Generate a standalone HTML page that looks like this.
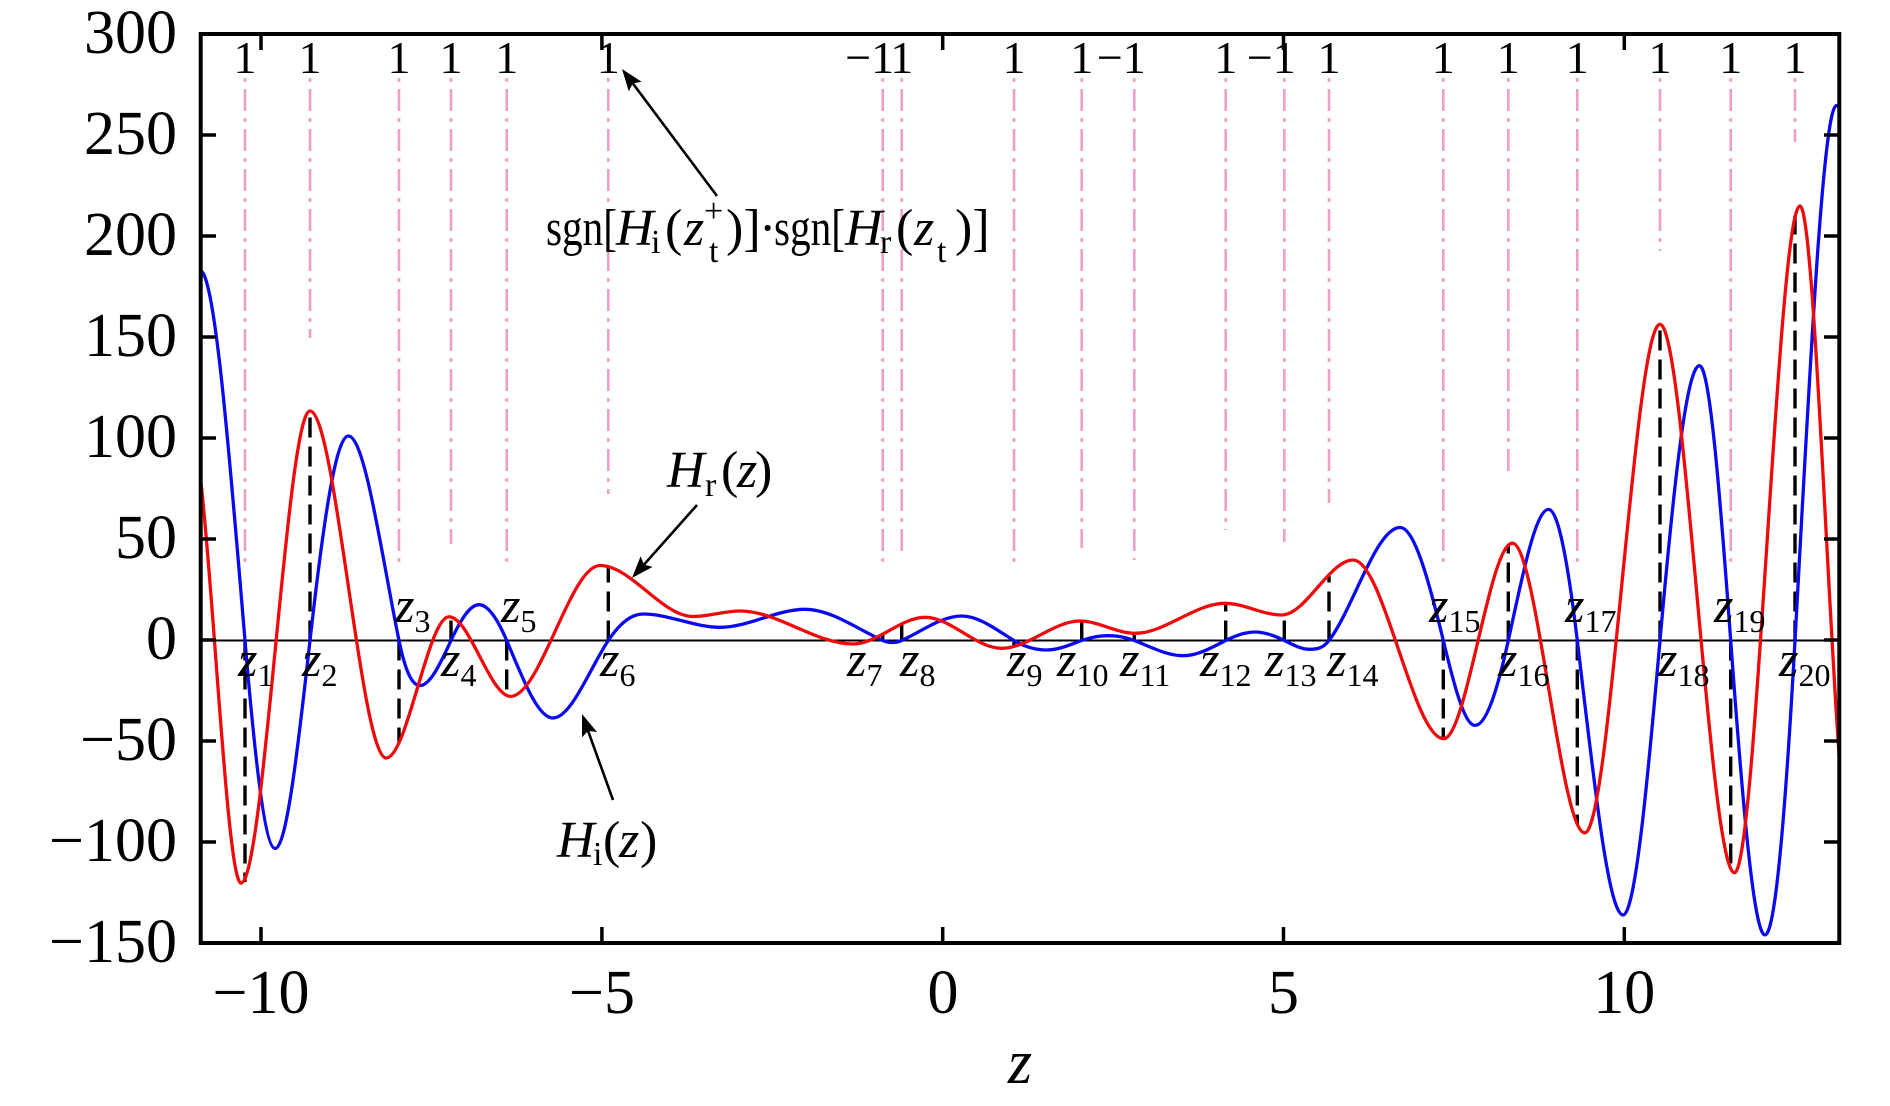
<!DOCTYPE html>
<html>
<head>
<meta charset="utf-8">
<style>
html,body{margin:0;padding:0;background:#fff;}
svg{display:block;}
text{font-family:"Liberation Serif","Times New Roman",serif;fill:#000;}
.it{font-style:italic;}
</style>
</head>
<body>
<svg width="1890" height="1106" viewBox="0 0 1890 1106" xmlns="http://www.w3.org/2000/svg">
<defs>
<clipPath id="pa"><rect x="201" y="34" width="1638" height="909"/></clipPath>
</defs>
<rect x="0" y="0" width="1890" height="1106" fill="#fff"/>

<g stroke="#f0a0c8" stroke-width="2.6" stroke-dasharray="4 7 22 7" fill="none">
<line x1="245" y1="78" x2="245" y2="567"/>
<line x1="310" y1="78" x2="310" y2="338"/>
<line x1="399" y1="78" x2="399" y2="567"/>
<line x1="451" y1="78" x2="451" y2="544"/>
<line x1="506.7" y1="78" x2="506.7" y2="567"/>
<line x1="608.3" y1="78" x2="608.3" y2="494"/>
<line x1="882.7" y1="78" x2="882.7" y2="562"/>
<line x1="901.7" y1="78" x2="901.7" y2="551"/>
<line x1="1014" y1="78" x2="1014" y2="567"/>
<line x1="1081.7" y1="78" x2="1081.7" y2="548"/>
<line x1="1134.3" y1="78" x2="1134.3" y2="560"/>
<line x1="1225.7" y1="78" x2="1225.7" y2="530"/>
<line x1="1284.3" y1="78" x2="1284.3" y2="542"/>
<line x1="1329" y1="78" x2="1329" y2="503"/>
<line x1="1443.3" y1="78" x2="1443.3" y2="567"/>
<line x1="1508.3" y1="78" x2="1508.3" y2="472"/>
<line x1="1577.3" y1="78" x2="1577.3" y2="567"/>
<line x1="1660" y1="78" x2="1660" y2="251"/>
<line x1="1730.7" y1="78" x2="1730.7" y2="567"/>
<line x1="1795" y1="78" x2="1795" y2="142"/>
</g>

<line x1="201" y1="640.5" x2="1839" y2="640.5" stroke="#000" stroke-width="2"/>

<g stroke="#000" stroke-width="3.4" stroke-dasharray="20 9" fill="none">
<line x1="245" y1="640.5" x2="245" y2="882"/>
<line x1="310" y1="640.5" x2="310" y2="411"/>
<line x1="399" y1="640.5" x2="399" y2="743"/>
<line x1="451" y1="640.5" x2="451" y2="617"/>
<line x1="506.7" y1="640.5" x2="506.7" y2="696"/>
<line x1="608.3" y1="640.5" x2="608.3" y2="567"/>
<line x1="882.7" y1="640.5" x2="882.7" y2="635"/>
<line x1="901.7" y1="640.5" x2="901.7" y2="624"/>
<line x1="1014" y1="640.5" x2="1014" y2="647"/>
<line x1="1081.7" y1="640.5" x2="1081.7" y2="621"/>
<line x1="1134.3" y1="640.5" x2="1134.3" y2="633"/>
<line x1="1225.7" y1="640.5" x2="1225.7" y2="603"/>
<line x1="1284.3" y1="640.5" x2="1284.3" y2="615"/>
<line x1="1329" y1="640.5" x2="1329" y2="576"/>
<line x1="1443.3" y1="640.5" x2="1443.3" y2="739"/>
<line x1="1508.3" y1="640.5" x2="1508.3" y2="545"/>
<line x1="1577.3" y1="640.5" x2="1577.3" y2="824"/>
<line x1="1660" y1="640.5" x2="1660" y2="324"/>
<line x1="1730.7" y1="640.5" x2="1730.7" y2="869"/>
<line x1="1795" y1="640.5" x2="1795" y2="216"/>
</g>

<g clip-path="url(#pa)" fill="none" stroke-width="3.3" stroke-linejoin="round" stroke-linecap="round">
<path stroke="#0a0af0" d="M199.5,272 L200,270.5
C215,270.5 230,462 245,640.5
C255.07,760.3 265.1,848.5 275.2,848.5
C286.8,848.5 298.4,743.5 310,640.5
C322.77,527.1 335.5,436 348.3,436
C365.2,436 382.1,558.5 399,640.5
C406,674.5 413,685.6 420,685.6
C430.3,685.6 440.7,662.7 451,640.5
C460.3,620.4 469.7,604.7 479,604.7
C488.2,604.7 497.5,618.9 506.7,640.5
C522.1,676.5 537.4,718 552.8,718
C571.3,718 589.8,668.3 608.3,640.5
C619.9,623.1 631.4,614 643,614
C668.7,614 694.3,627.3 720,627.3
C748.3,627.3 776.7,609.3 805,609.3
C830.9,609.3 856.8,628.8 882.7,640.5
C885.7,641.85 888.7,642.5 891.7,642.5
C895,642.5 898.4,642 901.7,640.5
C921.7,631.3 941.7,616 961.7,616
C979.1,616 996.6,630 1014,640.5
C1024.9,647 1035.8,650 1046.7,650
C1058.4,650 1070,644.7 1081.7,640.5
C1090.6,637.3 1099.4,635.7 1108.3,635.7
C1117,635.7 1125.6,637.1 1134.3,640.5
C1150.6,646.9 1167,655.7 1183.3,655.7
C1197.4,655.7 1211.6,647.7 1225.7,640.5
C1235.5,635.5 1245.2,632 1255,632
C1264.8,632 1274.5,635.6 1284.3,640.5
C1292.9,644.8 1301.4,649.3 1310,649.3
C1316.3,649.3 1322.7,648.7 1329,640.5
C1352.7,609.7 1376.3,527.5 1400,527.5
C1414.4,527.5 1428.9,580.6 1443.3,640.5
C1453.9,684.4 1464.4,725.4 1475,725.4
C1486.1,725.4 1497.2,691 1508.3,640.5
C1521.7,579.4 1535.2,509.4 1548.6,509.4
C1558.2,509.4 1567.7,561.1 1577.3,640.5
C1592.5,766.9 1607.8,915 1623,915
C1635.3,915 1647.7,779.8 1660,640.5
C1673.2,491.7 1686.3,365.7 1699.5,365.7
C1709.9,365.7 1720.3,498.5 1730.7,640.5
C1742.1,796.5 1753.6,935 1765,935
C1775,935 1785,820.5 1795,640.5
C1808.8,391.5 1822.7,105.5 1836.5,105.5
L1840,107"/>
<path stroke="#ee0a0a" d="M201,483
C214.3,600 227.7,883 241,883
C264,883 287,411 310,411
C335.4,411 360.8,758 386.2,758
C407.1,758 428.1,616.8 449,616.8
C469.5,616.8 490.1,696.4 510.6,696.4
C540.4,696.4 570.2,565.5 600,565.5
C631,565.5 662,616.5 693,616.5
C708.7,616.5 724.3,611 740,611
C777.7,611 815.3,644 853,644
C877,644 901,617.3 925,617.3
C950.6,617.3 976.1,648.3 1001.7,648.3
C1027.8,648.3 1053.9,621 1080,621
C1098.3,621 1116.7,633.3 1135,633.3
C1165,633.3 1195,603.3 1225,603.3
C1243.9,603.3 1262.8,615 1281.7,615
C1305.6,615 1329.4,560 1353.3,560
C1383.4,560 1413.5,738.7 1443.6,738.7
C1466.5,738.7 1489.5,543.2 1512.4,543.2
C1536.5,543.2 1560.7,832.8 1584.8,832.8
C1609.9,832.8 1634.9,324.3 1660,324.3
C1684.8,324.3 1709.7,872.7 1734.5,872.7
C1756.3,872.7 1778.2,206 1800,206
C1813.1,206 1826.2,574.6 1839.3,758"/>
</g>

<rect x="200.7" y="34" width="1638.6" height="909" fill="none" stroke="#000" stroke-width="4"/>

<g stroke="#000" stroke-width="3.5">
<line x1="261" y1="943" x2="261" y2="927"/>
<line x1="601.9" y1="943" x2="601.9" y2="927"/>
<line x1="942.7" y1="943" x2="942.7" y2="927"/>
<line x1="1283.5" y1="943" x2="1283.5" y2="927"/>
<line x1="1624.3" y1="943" x2="1624.3" y2="927"/>
<line x1="261" y1="34" x2="261" y2="50"/>
<line x1="601.9" y1="34" x2="601.9" y2="50"/>
<line x1="942.7" y1="34" x2="942.7" y2="50"/>
<line x1="1283.5" y1="34" x2="1283.5" y2="50"/>
<line x1="1624.3" y1="34" x2="1624.3" y2="50"/>
<line x1="200.7" y1="135" x2="216" y2="135"/>
<line x1="200.7" y1="236" x2="216" y2="236"/>
<line x1="200.7" y1="337" x2="216" y2="337"/>
<line x1="200.7" y1="438" x2="216" y2="438"/>
<line x1="200.7" y1="539" x2="216" y2="539"/>
<line x1="200.7" y1="640" x2="216" y2="640"/>
<line x1="200.7" y1="741" x2="216" y2="741"/>
<line x1="200.7" y1="842" x2="216" y2="842"/>
<line x1="1839.3" y1="135" x2="1824" y2="135"/>
<line x1="1839.3" y1="236" x2="1824" y2="236"/>
<line x1="1839.3" y1="337" x2="1824" y2="337"/>
<line x1="1839.3" y1="438" x2="1824" y2="438"/>
<line x1="1839.3" y1="539" x2="1824" y2="539"/>
<line x1="1839.3" y1="640" x2="1824" y2="640"/>
<line x1="1839.3" y1="741" x2="1824" y2="741"/>
<line x1="1839.3" y1="842" x2="1824" y2="842"/>
</g>

<g font-size="62" text-anchor="end">
<text x="177" y="53">300</text>
<text x="177" y="154">250</text>
<text x="177" y="255">200</text>
<text x="177" y="356">150</text>
<text x="177" y="457">100</text>
<text x="177" y="558">50</text>
<text x="177" y="659">0</text>
<text x="177" y="760">−50</text>
<text x="177" y="861">−100</text>
<text x="177" y="962">−150</text>
</g>

<g font-size="62" text-anchor="middle">
<text x="261" y="1013">−10</text>
<text x="602" y="1013">−5</text>
<text x="943" y="1013">0</text>
<text x="1283.5" y="1013">5</text>
<text x="1624.3" y="1013">10</text>
</g>
<text x="1020" y="1083" font-size="62" class="it" text-anchor="middle">z</text>

<g font-size="46" text-anchor="middle">
<text x="245" y="73">1</text>
<text x="310" y="73">1</text>
<text x="399" y="73">1</text>
<text x="451" y="73">1</text>
<text x="506.7" y="73">1</text>
<text x="608.3" y="73">1</text>
<text x="901.7" y="73">1</text>
<text x="1014" y="73">1</text>
<text x="1081.7" y="73">1</text>
<text x="1225.7" y="73">1</text>
<text x="1329" y="73">1</text>
<text x="1443.3" y="73">1</text>
<text x="1508.3" y="73">1</text>
<text x="1577.3" y="73">1</text>
<text x="1660" y="73">1</text>
<text x="1730.7" y="73">1</text>
<text x="1795" y="73">1</text>
</g>
<g font-size="46" text-anchor="end">
<text x="894.2" y="73">−1</text>
<text x="1145.8" y="73">−1</text>
<text x="1295.8" y="73">−1</text>
</g>

<g font-size="50">
<text x="238" y="676"><tspan class="it">z</tspan><tspan font-size="32" dy="10">1</tspan></text>
<text x="302" y="676"><tspan class="it">z</tspan><tspan font-size="32" dy="10">2</tspan></text>
<text x="395" y="622"><tspan class="it">z</tspan><tspan font-size="32" dy="10">3</tspan></text>
<text x="441" y="676"><tspan class="it">z</tspan><tspan font-size="32" dy="10">4</tspan></text>
<text x="501" y="622"><tspan class="it">z</tspan><tspan font-size="32" dy="10">5</tspan></text>
<text x="600" y="676"><tspan class="it">z</tspan><tspan font-size="32" dy="10">6</tspan></text>
<text x="847" y="676"><tspan class="it">z</tspan><tspan font-size="32" dy="10">7</tspan></text>
<text x="900" y="676"><tspan class="it">z</tspan><tspan font-size="32" dy="10">8</tspan></text>
<text x="1007" y="676"><tspan class="it">z</tspan><tspan font-size="32" dy="10">9</tspan></text>
<text x="1057" y="676"><tspan class="it">z</tspan><tspan font-size="32" dy="10">10</tspan></text>
<text x="1120" y="676"><tspan class="it">z</tspan><tspan font-size="32" dy="10">11</tspan></text>
<text x="1200" y="676"><tspan class="it">z</tspan><tspan font-size="32" dy="10">12</tspan></text>
<text x="1265" y="676"><tspan class="it">z</tspan><tspan font-size="32" dy="10">13</tspan></text>
<text x="1327" y="676"><tspan class="it">z</tspan><tspan font-size="32" dy="10">14</tspan></text>
<text x="1429" y="622"><tspan class="it">z</tspan><tspan font-size="32" dy="10">15</tspan></text>
<text x="1498" y="676"><tspan class="it">z</tspan><tspan font-size="32" dy="10">16</tspan></text>
<text x="1565" y="622"><tspan class="it">z</tspan><tspan font-size="32" dy="10">17</tspan></text>
<text x="1658" y="676"><tspan class="it">z</tspan><tspan font-size="32" dy="10">18</tspan></text>
<text x="1714" y="622"><tspan class="it">z</tspan><tspan font-size="32" dy="10">19</tspan></text>
<text x="1779" y="676"><tspan class="it">z</tspan><tspan font-size="32" dy="10">20</tspan></text>
</g>

<g font-size="52">
<text x="546" y="245" textLength="71" lengthAdjust="spacingAndGlyphs">sgn[</text>
<text x="616" y="245" class="it">H</text>
<text x="651" y="253" font-size="34">i</text>
<text x="665" y="245">(</text>
<text x="684" y="245" class="it">z</text>
<text x="709" y="262" font-size="34">t</text>
<text x="704" y="222" font-size="34">+</text>
<text x="726" y="245">)]</text>
<text x="759" y="245">·</text>
<text x="774" y="245" textLength="71" lengthAdjust="spacingAndGlyphs">sgn[</text>
<text x="845" y="245" class="it">H</text>
<text x="880" y="253" font-size="34">r</text>
<text x="896" y="245">(</text>
<text x="914" y="245" class="it">z</text>
<text x="937" y="262" font-size="34">t</text>
<text x="955" y="245">)]</text>
</g>

<g font-size="52">
<text x="667" y="487" class="it">H</text>
<text x="705" y="496" font-size="34">r</text>
<text x="721" y="487">(</text>
<text x="737" y="487" class="it">z</text>
<text x="755" y="487">)</text>
</g>

<g font-size="52">
<text x="557" y="857" class="it">H</text>
<text x="593" y="865" font-size="34">i</text>
<text x="603" y="857">(</text>
<text x="619" y="857" class="it">z</text>
<text x="640" y="857">)</text>
</g>

<g stroke="#000" stroke-width="2.6" fill="none">
<line x1="717" y1="196" x2="632.8" y2="83.4"/>
<line x1="697" y1="505" x2="644" y2="564.6"/>
<line x1="613" y1="800" x2="588.1" y2="730.9"/>
</g>
<g fill="#000">
<polygon points="622,69 641.6,81.8 632.8,83.4 628.8,91.4"/>
<polygon points="632,578 640.6,556.3 644,564.6 652.6,566.9"/>
<polygon points="582,714 597,732 588.1,730.9 582,737.4"/>
</g>
</svg>
</body>
</html>
